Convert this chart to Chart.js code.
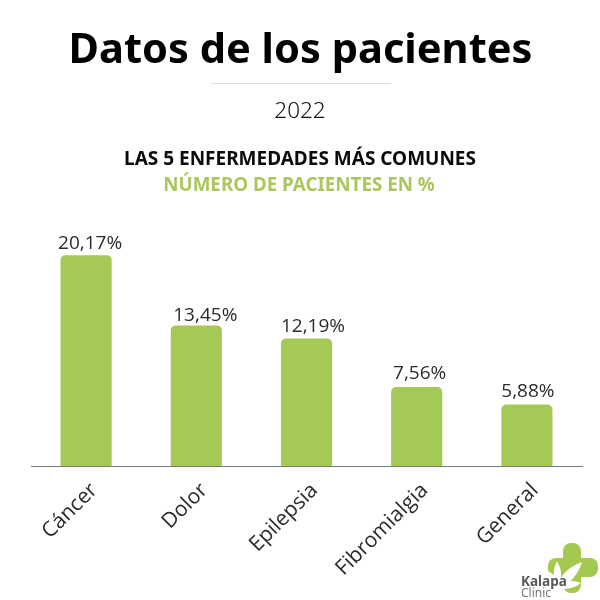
<!DOCTYPE html>
<html lang="es">
<head>
<meta charset="utf-8">
<title>Datos de los pacientes</title>
<script src="https://cdn.jsdelivr.net/npm/chart.js@4"></script>
<style>
html,body{margin:0;padding:0;background:#fff;overflow:hidden}
#wrap{position:relative;width:600px;height:600px;font-family:"Noto Sans",sans-serif}
#wrap canvas{position:absolute;left:0;top:0}
.t{position:absolute;left:0;text-align:center;white-space:nowrap;line-height:1}
#rule{position:absolute;left:211px;top:83px;width:180px;height:1px;background:#dfdfdf}
#logo{position:absolute;left:515px;top:538px}
</style>
</head>
<body>
<div id="wrap">
  <canvas id="c" width="600" height="600"></canvas>
  <div class="t" style="width:601px;top:27px;font-size:41.6px;font-weight:700;color:#000">Datos de los pacientes</div>
  <div id="rule"></div>
  <div class="t" style="width:600px;top:99px;font-size:22.5px;font-weight:300;color:#111">2022</div>
  <div class="t" style="width:600px;top:149px;font-size:19px;font-weight:700;color:#0b0b0b">LAS 5 ENFERMEDADES MÁS COMUNES</div>
  <div class="t" style="width:598px;top:175px;font-size:18.8px;font-weight:700;color:#a9c75c">NÚMERO DE PACIENTES EN %</div>
  <svg id="logo" width="85" height="62" viewBox="515 538 85 62">
    <g fill="#a3c94f">
      <rect x="563" y="543" width="18" height="50" rx="8"/>
      <rect x="548" y="558" width="50" height="19" rx="8"/>
      <rect x="552" y="562" width="26" height="26" rx="9"/>
    </g>
    <g fill="#fff">
      <path d="M558 588 Q560 570 582 562 Q576 582 558 588 Z"/>
      <path d="M558 588 Q550 574 557 561 Q565 574 558 588 Z"/>
      <path d="M558 588 Q548 582 545 570 Q558 574 558 588 Z"/>
      <path d="M558 588 Q568 577 581 583 Q571 591 558 588 Z"/>
    </g>
    <text x="521" y="586" font-family="'Noto Sans',sans-serif" font-size="13.5" font-weight="700" fill="#58595b">Kalapa</text>
    <text x="521" y="597" font-family="'Noto Sans',sans-serif" font-size="12" fill="#77787a">Clinic</text>
  </svg>
</div>
<script>
const categories = ["Cáncer", "Dolor", "Epilepsia", "Fibromialgia", "General"];
const values = [20.17, 13.45, 12.19, 7.56, 5.88];
const valueLabels = ["20,17%", "13,45%", "12,19%", "7,56%", "5,88%"];

const barLabels = {
  id: "barLabels",
  afterDatasetsDraw(chart) {
    const ctx = chart.ctx;
    const nudgeX = [4, 9, 6.5, 3, 1];
    const nudgeY = [0, 2, -1, -2, -2];
    ctx.save();
    ctx.font = '19px "Open Sans", sans-serif';
    ctx.fillStyle = "#2b2b2b";
    ctx.textAlign = "center";
    ctx.textBaseline = "alphabetic";
    chart.getDatasetMeta(0).data.forEach((bar, i) => {
      ctx.fillText(valueLabels[i], bar.x + nudgeX[i], bar.y - 6 + nudgeY[i]);
    });
    ctx.restore();
  }
};

new Chart(document.getElementById("c"), {
  type: "bar",
  data: {
    labels: categories,
    datasets: [{
      data: values,
      backgroundColor: "#a5c955",
      borderRadius: { topLeft: 5, topRight: 5 },
      borderSkipped: "bottom",
      categoryPercentage: 1,
      barPercentage: 0.464
    }]
  },
  options: {
    responsive: false,
    animation: false,
    devicePixelRatio: 1,
    layout: { padding: { left: 31, right: 18, top: 236, bottom: 0 } },
    plugins: { legend: { display: false }, tooltip: { enabled: false } },
    scales: {
      y: { display: false, min: 0, max: 22 },
      x: {
        afterFit(scale) { scale.height = 134; },
        border: { color: "#7a7a7a", width: 1 },
        grid: { display: false },
        ticks: {
          color: "#2b2b2b",
          font: { family: '"Open Sans", sans-serif', size: 21 },
          minRotation: 45,
          maxRotation: 45,
          padding: 4,
          labelOffset: 8,
          autoSkip: false
        }
      }
    }
  },
  plugins: [barLabels]
});
</script>
</body>
</html>
